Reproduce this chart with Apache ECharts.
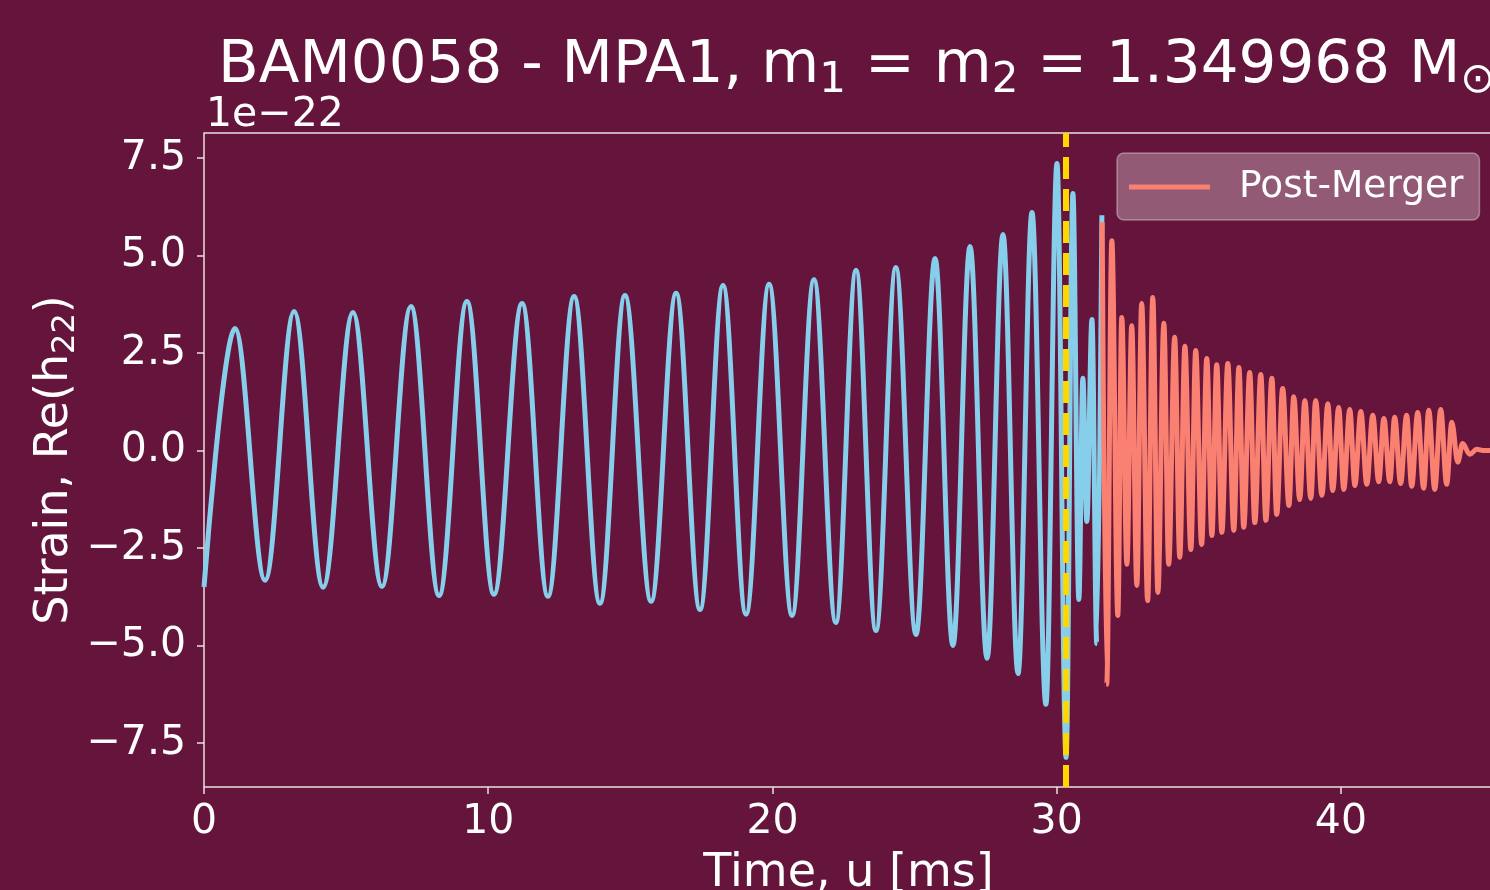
<!DOCTYPE html>
<html>
<head>
<meta charset="utf-8">
<script src="https://cdn.jsdelivr.net/npm/echarts@6/dist/echarts.min.js"></script>
<style>
  html, body { margin: 0; padding: 0; background: #65143b; }
  #chart { width: 1490px; height: 890px; }
</style>
</head>
<body>
<div id="chart"></div>
<script>
// strain in units of 1e-22, time in ms
const mergerTime = 30.33

const inspiralTime = [0, 1.09, 2.15, 3.17, 4.19, 5.24, 6.26, 7.28, 8.27, 9.25,
  10.20, 11.19, 12.10, 13.02, 13.93, 14.81, 15.73, 16.61, 17.45, 18.26,
  19.07, 19.88, 20.69, 21.46, 22.23, 22.94, 23.64, 24.34, 25.05, 25.72,
  26.35, 26.95, 27.55, 28.11, 28.64, 29.13, 29.62, 30.01, 30.33, 30.57,
  30.78, 30.92, 31.06, 31.24, 31.41, 31.59]
const inspiralStrain = [-3.5, 3.13, -3.33, 3.56, -3.51, 3.54, -3.49, 3.69, -3.72, 3.82,
  -3.69, 3.77, -3.74, 3.95, -3.92, 3.97, -3.87, 4.03, -4.08, 4.23,
  -4.20, 4.26, -4.23, 4.38, -4.41, 4.62, -4.62, 4.69, -4.72, 4.92,
  -5.00, 5.23, -5.33, 5.54, -5.72, 6.10, -6.51, 7.36, -7.87, 6.59,
  -3.82, 1.85, -1.82, 3.36, -4.95, 6.03]

const postTime = [31.60, 31.76, 31.94, 32.15, 32.29, 32.47, 32.64, 32.82, 32.99, 33.20,
  33.38, 33.56, 33.77, 33.94, 34.15, 34.33, 34.51, 34.72, 34.89, 35.10,
  35.28, 35.46, 35.63, 35.81, 36.02, 36.23, 36.41, 36.58, 36.79, 36.97,
  37.18, 37.36, 37.57, 37.74, 37.95, 38.17, 38.34, 38.55, 38.73, 38.94,
  39.11, 39.33, 39.54, 39.71, 39.92, 40.10, 40.31, 40.49, 40.70, 40.91,
  41.12, 41.33, 41.51, 41.72, 41.89, 42.10, 42.31, 42.49, 42.70, 42.91,
  43.09, 43.30, 43.51, 43.72, 43.90, 44.11, 44.28, 44.53, 44.78, 45.00, 45.35]
const postStrain = [5.85, -6.00, 5.38, -4.23, 3.41, -2.92, 3.20, -3.46, 3.77, -3.85,
  3.92, -3.64, 3.26, -2.92, 2.90, -2.74, 2.67, -2.54, 2.56, -2.41,
  2.36, -2.18, 2.20, -2.10, 2.23, -2.05, 2.13, -1.97, 2.00, -1.85,
  1.95, -1.79, 1.85, -1.64, 1.59, -1.41, 1.38, -1.26, 1.28, -1.23,
  1.28, -1.15, 1.20, -1.03, 1.10, -1.00, 1.05, -0.90, 1.00, -0.87,
  0.90, -0.80, 0.82, -0.80, 0.85, -0.85, 0.90, -0.92, 0.97, -0.97,
  1.03, -1.00, 1.05, -0.87, 0.72, -0.30, 0.18, -0.10, 0.03, 0.00, 0.00]

const xTicks = [0, 10, 20, 30, 40]
const yTicks = [-7.5, -5, -2.5, 0, 2.5, 5, 7.5]
const yTickLabels = ['−7.5', '−5.0', '−2.5', '0.0', '2.5', '5.0', '7.5']

const font = 'DejaVu Sans'
const frameColor = '#e9dfe4'

const chart = echarts.init(document.getElementById('chart'))

const option = {
  backgroundColor: '#65143b',
  animation: false,
  title: {
    text: 'BAM0058 - MPA1, m{sub|1} = m{sub|2} = 1.349968 M{sub|⊙}',
    left: 218,
    top: 32,
    padding: 0,
    textStyle: {
      color: '#fff',
      fontFamily: font,
      fontSize: 59.5,
      fontWeight: 'normal',
      rich: {
        sub: { color: '#fff', fontFamily: font, fontSize: 42, padding: [28, 0, 0, 0] }
      }
    }
  },
  graphic: [
    {
      type: 'text',
      left: 206,
      top: 95,
      style: { text: '1e−22', fill: '#fff', font: '41px "DejaVu Sans"' }
    }
  ],
  legend: {
    data: ['Post-Merger'],
    left: 1117,
    top: 153,
    orient: 'vertical',
    icon: 'rect',
    itemWidth: 81,
    itemHeight: 5,
    padding: [10, 16, 9, 12],
    backgroundColor: 'rgba(255,255,255,0.3)',
    borderColor: 'rgba(255,255,255,0.35)',
    borderWidth: 1.5,
    borderRadius: 7,
    textStyle: {
      color: '#fff',
      fontFamily: font,
      fontSize: 37.5,
      lineHeight: 48,
      padding: [0, 0, 0, 24]
    }
  },
  grid: {
    left: 204,
    top: 133,
    right: -3,
    bottom: 103,
    outerBoundsMode: 'none',
    containLabel: false,
    show: true,
    borderColor: frameColor,
    borderWidth: 1.5
  },
  xAxis: {
    type: 'value',
    min: 0,
    max: 45.35,
    name: 'Time, u [ms]',
    nameLocation: 'middle',
    nameGap: 64,
    nameMoveOverlap: false,
    nameTextStyle: { color: '#fff', fontFamily: font, fontSize: 46 },
    axisLine: { show: false, onZero: false },
    splitLine: { show: false },
    axisTick: {
      show: true,
      length: 7,
      customValues: xTicks,
      lineStyle: { color: frameColor, width: 1.5 }
    },
    axisLabel: {
      customValues: xTicks,
      margin: 15,
      color: '#fff',
      fontFamily: font,
      fontSize: 41,
      formatter: v => String(v)
    }
  },
  yAxis: {
    type: 'value',
    min: -8.63,
    max: 8.14,
    name: 'Strain, Re(h{s|22})',
    nameLocation: 'middle',
    nameRotate: 90,
    nameGap: 122,
    nameMoveOverlap: false,
    nameTextStyle: {
      color: '#fff',
      fontFamily: font,
      fontSize: 46,
      rich: {
        s: { color: '#fff', fontFamily: font, fontSize: 32, padding: [22, 0, 0, 0] }
      }
    },
    axisLine: { show: false, onZero: false },
    splitLine: { show: false },
    axisTick: {
      show: true,
      length: 7,
      customValues: yTicks,
      lineStyle: { color: frameColor, width: 1.5 }
    },
    axisLabel: {
      customValues: yTicks,
      margin: 18,
      color: '#fff',
      fontFamily: font,
      fontSize: 41,
      formatter: v => yTickLabels[yTicks.indexOf(v)]
    }
  },
  series: [
    {
      name: 'Inspiral',
      type: 'line',
      data: inspiralTime.map((t, i) => [t, inspiralStrain[i]]),
      showSymbol: false,
      symbol: 'none',
      smooth: 0.36,
      smoothMonotone: 'x',
      lineStyle: { color: '#87ceeb', width: 5 },
      markLine: {
        silent: true,
        symbol: ['none', 'none'],
        label: { show: false },
        lineStyle: { color: '#ffd700', width: 6, type: [22, 10] },
        data: [{ xAxis: mergerTime }]
      }
    },
    {
      name: 'Post-Merger',
      type: 'line',
      data: postTime.map((t, i) => [t, postStrain[i]]),
      showSymbol: false,
      symbol: 'none',
      smooth: 0.36,
      smoothMonotone: 'x',
      itemStyle: { color: '#fa8072' },
      lineStyle: { color: '#fa8072', width: 5 }
    }
  ]
}

chart.setOption(option)
</script>
</body>
</html>
